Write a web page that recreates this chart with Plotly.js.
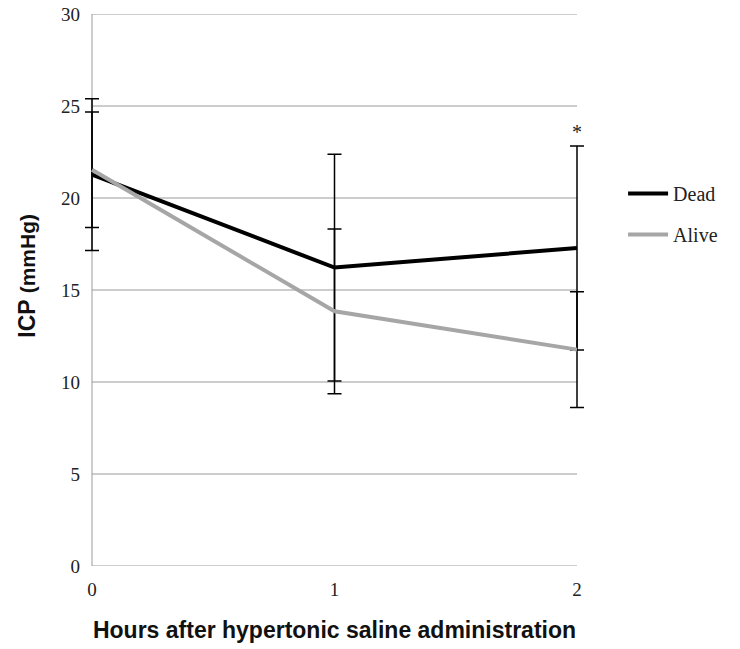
<!DOCTYPE html>
<html>
<head>
<meta charset="utf-8">
<script src="https://cdn.plot.ly/plotly-3.0.1.min.js"></script>
<style>html,body{margin:0;padding:0;background:#fff;}#chart{width:740px;height:649px;}</style>
</head>
<body>
<div id="chart"></div>
<script>
var hours = [0, 1, 2];
var tickLabelsX = ['0', '1', '2'];
var yTicks = [0, 5, 10, 15, 20, 25, 30];
var deadICP = [21.27, 16.22, 17.28];
var deadErr = [4.13, 6.16, 5.54];
var aliveICP = [21.54, 13.84, 11.76];
var aliveErr = [3.14, 4.48, 3.15];
var sigHour = 2;
var sigY = 23.6;

var serif = 'Liberation Serif, Times New Roman, serif';
var sans = 'Liberation Sans, Arial, sans-serif';
var gridColor = '#9a9a9a';

var traces = [
  {
    x: hours, y: deadICP, name: 'Dead', type: 'scatter', mode: 'lines', cliponaxis: false,
    line: {color: '#000000', width: 4},
    error_y: {type: 'data', array: deadErr, visible: true, color: '#000000', thickness: 1.5, width: 7},
    legendgroup: 'a'
  },
  {
    x: hours, y: aliveICP, name: 'Alive', type: 'scatter', mode: 'lines', cliponaxis: false,
    line: {color: '#a6a6a6', width: 4},
    error_y: {type: 'data', array: aliveErr, visible: true, color: '#000000', thickness: 1.5, width: 7},
    legendgroup: 'b'
  }
];

// padding in x so end error-bar caps are not clipped
var pad = 0.033;
var shapes = yTicks.map(function (v) {
  return {type: 'line', xref: 'x', yref: 'y', x0: hours[0], x1: hours[hours.length - 1], y0: v, y1: v,
          line: {color: gridColor, width: 1}, layer: 'below'};
});
shapes.push({type: 'line', xref: 'x', yref: 'y', x0: hours[0], x1: hours[0], y0: yTicks[0], y1: yTicks[yTicks.length - 1],
             line: {color: gridColor, width: 1}, layer: 'below'});

var layout = {
  width: 740, height: 649,
  margin: {l: 84, r: 155, t: 14, b: 83, autoexpand: false},
  paper_bgcolor: '#ffffff', plot_bgcolor: '#ffffff',
  showlegend: true,
  legend: {
    x: 1.076, xanchor: 'left', y: 0.71, yanchor: 'top',
    font: {family: serif, size: 20, color: '#222'},
    traceorder: 'grouped', tracegroupgap: 12,
    itemwidth: 40, bgcolor: 'rgba(0,0,0,0)'
  },
  xaxis: {
    range: [hours[0] - pad, hours[hours.length - 1] + pad], tickvals: hours, ticktext: tickLabelsX,
    showgrid: false, zeroline: false, showline: false,
    ticks: '', ticklabelstandoff: 10,
    tickfont: {family: serif, size: 19, color: '#222'},
    title: {text: '<b>Hours after hypertonic saline administration</b>', font: {family: sans, size: 23, color: '#111'}, standoff: 22}
  },
  yaxis: {
    range: [0, 30], tickvals: yTicks,
    showgrid: false, zeroline: false, showline: false,
    ticks: '', ticklabelstandoff: 3,
    tickfont: {family: serif, size: 19, color: '#222'}
  },
  shapes: shapes,
  annotations: [
    {x: sigHour, y: sigY, xref: 'x', yref: 'y', text: '*', showarrow: false,
     font: {family: serif, size: 20, color: '#222'}},
    {x: 0, y: 0.526, xref: 'paper', yref: 'paper', xanchor: 'center', yanchor: 'middle', xshift: -57,
     textangle: -90, showarrow: false,
     text: '<b>ICP <span style="font-size:21px">(mmHg)</span></b>',
     font: {family: sans, size: 23, color: '#111'}}
  ]
};

Plotly.newPlot('chart', traces, layout, {displayModeBar: false, staticPlot: true});
</script>
</body>
</html>
